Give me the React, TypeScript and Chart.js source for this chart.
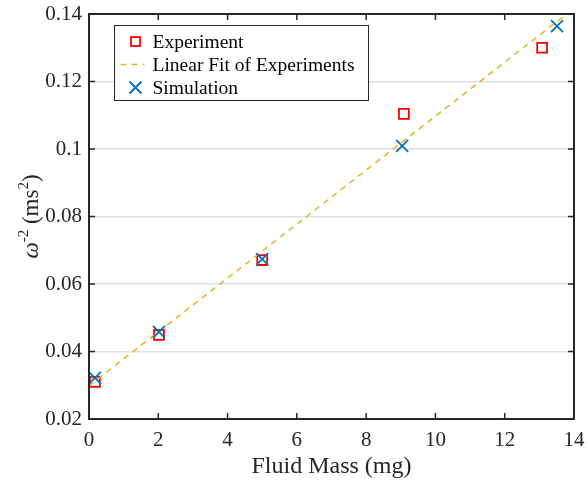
import React, { useEffect, useRef } from "react";
import { Chart, registerables } from "chart.js";
Chart.register(...registerables);

const expX = [0.17, 2.02, 5.0, 9.09, 13.08];
const expY = [0.031, 0.0449, 0.0671, 0.1104, 0.13];
const simX = [0.17, 2.02, 5.0, 9.04, 13.51];
const simY = [0.0322, 0.0458, 0.0674, 0.1009, 0.1364];
const fitX = [0, 14];
const fitY = [0.0298, 0.1417];
const xTicks = [0, 2, 4, 6, 8, 10, 12, 14];
const yTicks = [0.02, 0.04, 0.06, 0.08, 0.1, 0.12, 0.14];
const legendLabels = ["Experiment", "Linear Fit of Experiments", "Simulation"];
const xTitle = "Fluid Mass (mg)";

const RED = "#FF0000";
const ORANGE = "#EDB120";
const BLUE = "#0072BD";
const AXIS = "#262626";
const SERIF = "'Liberation Serif', 'Times New Roman', serif";

const matlabPlugin = {
  id: "matlabAxes",
  afterDatasetsDraw(chart: any) {
    const { ctx, chartArea: a, scales } = chart;
    const x = scales.x;
    const y = scales.y;
    ctx.save();
    // ticks inward on all sides
    ctx.strokeStyle = AXIS;
    ctx.lineWidth = 1.5;
    ctx.beginPath();
    xTicks.forEach((v) => {
      const px = x.getPixelForValue(v);
      ctx.moveTo(px, a.bottom);
      ctx.lineTo(px, a.bottom - 6);
      ctx.moveTo(px, a.top);
      ctx.lineTo(px, a.top + 6);
    });
    yTicks.forEach((v) => {
      const py = y.getPixelForValue(v);
      ctx.moveTo(a.left, py);
      ctx.lineTo(a.left + 6, py);
      ctx.moveTo(a.right, py);
      ctx.lineTo(a.right - 6, py);
    });
    ctx.stroke();
    ctx.lineWidth = 2;
    ctx.strokeRect(a.left, a.top, a.right - a.left, a.bottom - a.top);

    // legend
    const lx = a.left + 25.5;
    const ly = a.top + 11.5;
    const lw = 254;
    const lh = 75;
    ctx.fillStyle = "#ffffff";
    ctx.fillRect(lx, ly, lw, lh);
    ctx.strokeStyle = AXIS;
    ctx.lineWidth = 1;
    ctx.strokeRect(lx, ly, lw, lh);
    const rows = [ly + 16, ly + 39, ly + 62];
    const mx = lx + 21;
    // experiment marker
    ctx.strokeStyle = RED;
    ctx.lineWidth = 1.8;
    ctx.strokeRect(mx - 4.5, rows[0] - 4.5, 9, 9);
    // fit line
    ctx.strokeStyle = ORANGE;
    ctx.lineWidth = 1.5;
    ctx.setLineDash([6, 5]);
    ctx.beginPath();
    ctx.moveTo(mx - 15, rows[1]);
    ctx.lineTo(mx + 9, rows[1]);
    ctx.stroke();
    ctx.setLineDash([]);
    // sim marker
    ctx.strokeStyle = BLUE;
    ctx.lineWidth = 1.8;
    ctx.beginPath();
    ctx.moveTo(mx - 6, rows[2] - 6);
    ctx.lineTo(mx + 6, rows[2] + 6);
    ctx.moveTo(mx - 6, rows[2] + 6);
    ctx.lineTo(mx + 6, rows[2] - 6);
    ctx.stroke();
    ctx.fillStyle = "#000000";
    ctx.font = `19.5px ${SERIF}`;
    ctx.textAlign = "left";
    ctx.textBaseline = "middle";
    legendLabels.forEach((t, i) => ctx.fillText(t, lx + 38, rows[i] + 1));

    // x title
    ctx.fillStyle = AXIS;
    ctx.font = `24px ${SERIF}`;
    ctx.textAlign = "center";
    ctx.textBaseline = "alphabetic";
    ctx.fillText(xTitle, (a.left + a.right) / 2, 473);

    // y title with superscripts
    const segs = [
      { t: "\u03C9", font: `italic 23px ${SERIF}`, dy: 0 },
      { t: "-2", font: `15px ${SERIF}`, dy: -10 },
      { t: " (ms", font: `23px ${SERIF}`, dy: 0 },
      { t: "2", font: `15px ${SERIF}`, dy: -10 },
      { t: ")", font: `23px ${SERIF}`, dy: 0 },
    ];
    let total = 0;
    const widths = segs.map((s) => {
      ctx.font = s.font;
      const w = ctx.measureText(s.t).width;
      total += w;
      return w;
    });
    ctx.translate(38, (a.top + a.bottom) / 2);
    ctx.rotate(-Math.PI / 2);
    ctx.textAlign = "left";
    let cx = -total / 2;
    segs.forEach((s, i) => {
      ctx.font = s.font;
      ctx.fillText(s.t, cx, s.dy);
      cx += widths[i];
    });
    ctx.restore();
  },
};

export default function App() {
  const ref = useRef<HTMLCanvasElement | null>(null);
  useEffect(() => {
    if (!ref.current) return;
    const chart = new Chart(ref.current, {
      type: "scatter",
      data: {
        datasets: [
          {
            label: "Simulation",
            data: simX.map((v, i) => ({ x: v, y: simY[i] })),
            pointStyle: "crossRot",
            pointRadius: 8.5,
            pointBorderColor: BLUE,
            pointBorderWidth: 1.8,
            borderColor: BLUE,
            backgroundColor: BLUE,
            showLine: false,
            order: 0,
          },
          {
            label: "Linear Fit of Experiments",
            data: fitX.map((v, i) => ({ x: v, y: fitY[i] })),
            showLine: true,
            borderColor: ORANGE,
            borderWidth: 1.5,
            borderDash: [6, 5],
            pointRadius: 0,
            order: 1,
          },
          {
            label: "Experiment",
            data: expX.map((v, i) => ({ x: v, y: expY[i] })),
            pointStyle: "rect",
            pointRadius: 7,
            pointBorderColor: RED,
            pointBackgroundColor: "rgba(0,0,0,0)",
            pointBorderWidth: 1.8,
            borderColor: RED,
            showLine: false,
            order: 2,
          },
        ],
      },
      options: {
        animation: false,
        responsive: true,
        maintainAspectRatio: false,
        layout: { padding: { left: 0, top: 14, right: 13, bottom: 0 } },
        plugins: { legend: { display: false }, tooltip: { enabled: false } },
        scales: {
          x: {
            type: "linear",
            min: 0,
            max: 14,
            afterBuildTicks: (s: any) => {
              s.ticks = xTicks.map((v) => ({ value: v }));
            },
            afterFit: (s: any) => {
              s.height = 66;
              s.paddingLeft = 0;
              s.paddingRight = 0;
              s.paddingTop = 0;
              s.paddingBottom = 0;
            },
            grid: { display: false, drawTicks: false },
            border: { display: false },
            ticks: {
              color: AXIS,
              font: { family: SERIF, size: 21 },
              padding: 9,
              maxRotation: 0,
              callback: (v: any) => String(v),
            },
          },
          y: {
            type: "linear",
            min: 0.02,
            max: 0.14,
            afterBuildTicks: (s: any) => {
              s.ticks = yTicks.map((v) => ({ value: v }));
            },
            afterFit: (s: any) => {
              s.width = 89;
              s.paddingLeft = 0;
              s.paddingRight = 0;
              s.paddingTop = 0;
              s.paddingBottom = 0;
            },
            grid: { color: "#dfdfdf", lineWidth: 1.5, drawTicks: false },
            border: { display: false },
            ticks: {
              color: AXIS,
              font: { family: SERIF, size: 21 },
              padding: 7,
              callback: (v: any) => String(parseFloat(Number(v).toFixed(2))),
            },
          },
        },
      },
      plugins: [matlabPlugin],
    } as any);
    return () => chart.destroy();
  }, []);
  return (
    <div style={{ position: "fixed", left: 0, top: 0, width: 587, height: 485, background: "#fff" }}>
      <canvas ref={ref} />
    </div>
  );
}
